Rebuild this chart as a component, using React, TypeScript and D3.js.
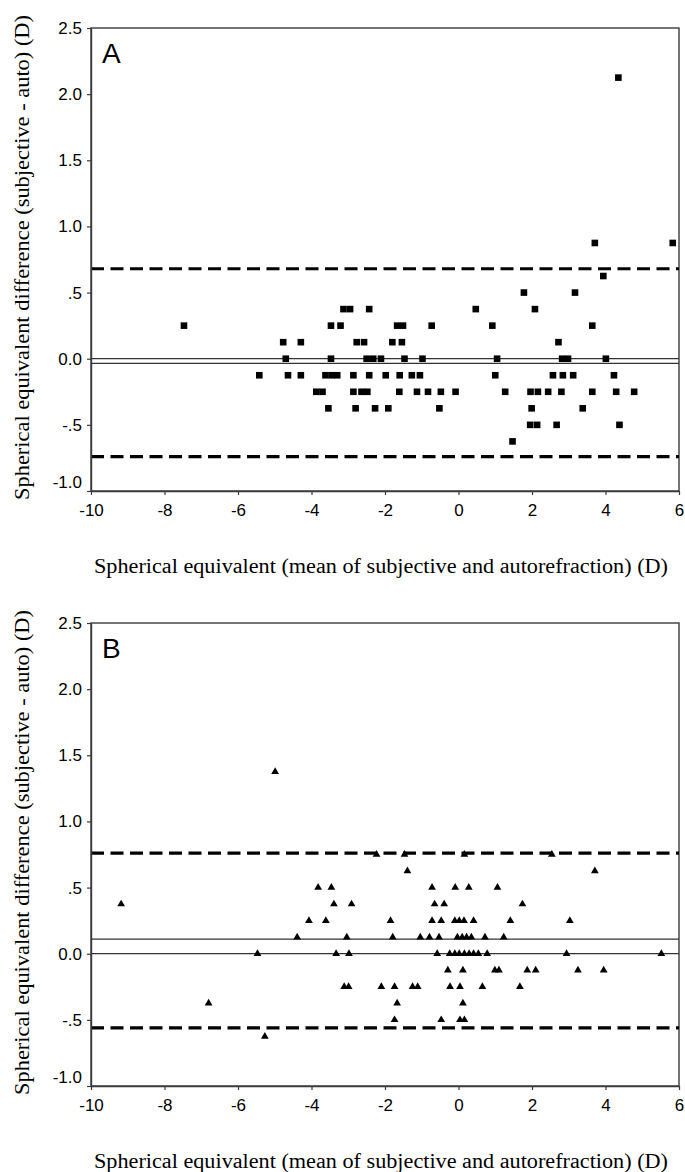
import React from "react";
import * as d3 from "d3";

// -- DATA --
const xTicks = [-10, -8, -6, -4, -2, 0, 2, 4, 6];
const yTicks = [2.5, 2.0, 1.5, 1.0, 0.5, 0.0, -0.5, -1.0];
const yTickLabels = ["2.5", "2.0", "1.5", "1.0", ".5", "0.0", "-.5", "-1.0"];

const xTitle = "Spherical equivalent (mean of subjective and autorefraction) (D)";
const yTitle = "Spherical equivalent difference (subjective - auto) (D)";

// panel A (squares): [mean, difference]
const pointsA: [number, number][] = [
  [-7.47, 0.25], [-5.42, -0.125], [-4.77, 0.125], [-4.7, 0], [-4.64, -0.125],
  [-4.29, 0.125], [-4.29, -0.125], [-3.87, -0.25], [-3.7, -0.25], [-3.54, -0.375],
  [-3.47, 0.25], [-3.47, 0], [-3.62, -0.125], [-3.45, -0.125], [-3.3, -0.125],
  [-3.21, 0.25], [-3.13, 0.375], [-2.95, 0.375], [-2.77, 0.125], [-2.57, 0.125],
  [-2.86, -0.125], [-2.86, -0.25], [-2.64, -0.25], [-2.48, -0.25], [-2.8, -0.375],
  [-2.5, 0], [-2.43, 0.375], [-2.43, -0.125], [-2.32, 0], [-2.11, 0],
  [-2.27, -0.375], [-1.98, -0.125], [-1.91, -0.375], [-1.8, 0.125], [-1.67, 0.25],
  [-1.51, 0.25], [-1.54, 0.125], [-1.47, 0], [-1.6, -0.125], [-1.61, -0.25],
  [-1.27, -0.125], [-1.05, -0.125], [-1.13, -0.25], [-0.83, -0.25], [-0.98, 0],
  [-0.73, 0.25], [-0.52, -0.375], [-0.48, -0.25], [-0.08, -0.25], [0.47, 0.375],
  [0.92, 0.25], [1.0, -0.125], [1.05, 0], [1.27, -0.25], [1.47, -0.625],
  [1.78, 0.5], [1.95, -0.5], [2.14, -0.5], [1.96, -0.25], [2.16, -0.25],
  [1.99, -0.375], [2.08, 0.375], [2.44, -0.25], [2.57, -0.125], [2.84, -0.125],
  [3.12, -0.125], [2.67, -0.5], [2.72, 0.125], [2.8, -0.25], [2.82, 0],
  [2.98, 0], [3.17, 0.5], [3.38, -0.375], [3.64, 0.25], [3.64, -0.25],
  [3.71, 0.875], [3.94, 0.625], [4.01, 0], [4.23, -0.125], [4.29, -0.25],
  [4.35, 2.125], [4.38, -0.5], [4.78, -0.25], [5.83, 0.875],
];
const limitsA = [0.68, -0.74]; // upper / lower limits of agreement
const meanA = -0.035;

// panel B (triangles): [mean, difference]
const pointsB: [number, number][] = [
  [-9.18, 0.375], [-6.8, -0.375], [-5.47, 0], [-5.27, -0.625], [-4.99, 1.375],
  [-4.39, 0.125], [-4.07, 0.25], [-3.82, 0.5], [-3.61, 0.25], [-3.46, 0.5],
  [-3.39, 0.375], [-3.33, 0], [-3.11, -0.25], [-2.99, -0.25], [-3.04, 0.125],
  [-2.98, 0], [-2.91, 0.375],
  [-2.23, 0.75], [-1.47, 0.75], [0.16, 0.75], [2.54, 0.75],
  [-1.39, 0.625], [3.71, 0.625],
  [-0.72, 0.5], [-0.09, 0.5], [0.28, 0.5], [1.06, 0.5],
  [-0.65, 0.375], [-0.39, 0.375], [1.74, 0.375],
  [-1.85, 0.25], [-0.72, 0.25], [-0.47, 0.25], [-0.1, 0.25], [0.02, 0.25],
  [0.15, 0.25], [0.41, 0.25], [1.41, 0.25], [3.03, 0.25],
  [-1.79, 0.125], [-1.04, 0.125], [-0.79, 0.125], [-0.53, 0.125], [-0.03, 0.125],
  [0.1, 0.125], [0.22, 0.125], [0.35, 0.125], [0.72, 0.125], [1.23, 0.125],
  [-0.58, 0], [-0.24, 0], [-0.1, 0], [0.02, 0], [0.16, 0], [0.29, 0],
  [0.41, 0], [0.54, 0], [0.78, 0], [2.94, 0], [5.52, 0],
  [-0.29, -0.125], [0.12, -0.125], [0.99, -0.125], [1.1, -0.125], [1.87, -0.125],
  [2.1, -0.125], [3.25, -0.125], [3.95, -0.125],
  [-2.1, -0.25], [-1.74, -0.25], [-1.25, -0.25], [-1.11, -0.25], [-0.23, -0.25],
  [0.04, -0.25], [0.65, -0.25], [1.67, -0.25],
  [-1.67, -0.375], [0.12, -0.375],
  [-1.74, -0.5], [-0.47, -0.5], [0.04, -0.5], [0.16, -0.5],
];
const limitsB = [0.76, -0.56];
const meanB = 0.11;

const App = () => {
  const svgRef = React.useRef<SVGSVGElement>(null);
  const width = 685;
  const height = 1172;

  React.useEffect(() => {
    const svg = d3.select(svgRef.current);
    svg.selectAll("*").remove();

    const left = 91;
    const right = 679;
    const plotH = 463;
    const x = d3.scaleLinear().domain([-10, 6]).range([left, right]);

    const panels = [
      { letter: "A", top: 28, points: pointsA, limits: limitsA, mean: meanA, shape: "square" },
      { letter: "B", top: 623, points: pointsB, limits: limitsB, mean: meanB, shape: "triangle" },
    ];

    panels.forEach((p) => {
      const bottom = p.top + plotH;
      const y = d3.scaleLinear().domain([-1, 2.5]).range([bottom, p.top]);
      const g = svg.append("g");

      // frame
      g.append("rect")
        .attr("x", left)
        .attr("y", p.top)
        .attr("width", right - left)
        .attr("height", plotH)
        .attr("fill", "none")
        .attr("stroke", "#3a3a3a")
        .attr("stroke-width", 1.4);

      // zero + mean lines
      g.selectAll("solidLines")
        .data([0, p.mean])
        .enter()
        .append("line")
        .attr("x1", left)
        .attr("x2", right)
        .attr("y1", (d) => y(d))
        .attr("y2", (d) => y(d))
        .attr("stroke", "#333")
        .attr("stroke-width", 1.2);

      // limits of agreement
      g.selectAll("dashLines")
        .data(p.limits)
        .enter()
        .append("line")
        .attr("x1", left)
        .attr("x2", right)
        .attr("y1", (d) => y(d))
        .attr("y2", (d) => y(d))
        .attr("stroke", "#000")
        .attr("stroke-width", 3.2)
        .attr("stroke-dasharray", "13,6.5");

      // axes
      const yAxis = g
        .append("g")
        .attr("transform", `translate(${left},0)`)
        .call(
          d3
            .axisLeft(y)
            .tickValues(yTicks)
            .tickSize(4)
            .tickSizeOuter(0)
            .tickPadding(5)
            .tickFormat((d, i) => yTickLabels[i])
        );
      const xAxis = g
        .append("g")
        .attr("transform", `translate(0,${bottom})`)
        .call(
          d3
            .axisBottom(x)
            .tickValues(xTicks)
            .tickSize(4)
            .tickSizeOuter(0)
            .tickPadding(9)
            .tickFormat((d) => String(d)) // plain hyphen, like the original
        );

      [yAxis, xAxis].forEach((ax) => {
        ax.attr("font-family", "'Liberation Sans', Arial, sans-serif").attr("font-size", 17);
        ax.select(".domain").attr("stroke", "#3a3a3a").attr("stroke-width", 1.4);
        ax.selectAll(".tick line").attr("stroke", "#3a3a3a").attr("stroke-width", 1.2);
        ax.selectAll(".tick text").attr("fill", "#000");
      });
      // lowest y label sits a little higher
      yAxis.selectAll(".tick text").filter((d) => d === -1).attr("dy", "-0.2em");

      // points
      if (p.shape === "square") {
        g.selectAll("pts")
          .data(p.points)
          .enter()
          .append("rect")
          .attr("x", (d) => x(d[0]) - 3.3)
          .attr("y", (d) => y(d[1]) - 3.3)
          .attr("width", 6.6)
          .attr("height", 6.6)
          .attr("fill", "#000");
      } else {
        const tri = d3.symbol().type(d3.symbolTriangle).size(26);
        g.selectAll("pts")
          .data(p.points)
          .enter()
          .append("path")
          .attr("d", tri)
          .attr("transform", (d) => `translate(${x(d[0])},${y(d[1])})`)
          .attr("fill", "#000");
      }

      // panel letter
      g.append("text")
        .attr("x", left + 11)
        .attr("y", p.top + 35)
        .attr("font-family", "'Liberation Sans', Arial, sans-serif")
        .attr("font-size", 28)
        .text(p.letter);

      // axis titles
      g.append("text")
        .attr("x", (left + right) / 2 - 4)
        .attr("y", bottom + 82)
        .attr("text-anchor", "middle")
        .attr("font-family", "'Liberation Serif', 'Times New Roman', serif")
        .attr("font-size", 20)
        .attr("textLength", 574)
        .attr("lengthAdjust", "spacingAndGlyphs")
        .text(xTitle);

      g.append("text")
        .attr("transform", `translate(29,${(p.top + bottom) / 2 - 2}) rotate(-90)`)
        .attr("text-anchor", "middle")
        .attr("font-family", "'Liberation Serif', 'Times New Roman', serif")
        .attr("font-size", 20)
        .attr("textLength", 485)
        .attr("lengthAdjust", "spacingAndGlyphs")
        .text(yTitle);
    });
  }, []);

  return (
    <svg
      ref={svgRef}
      width={width}
      height={height}
      style={{ position: "absolute", left: 0, top: 0, background: "#fff" }}
    />
  );
};

export default App;
